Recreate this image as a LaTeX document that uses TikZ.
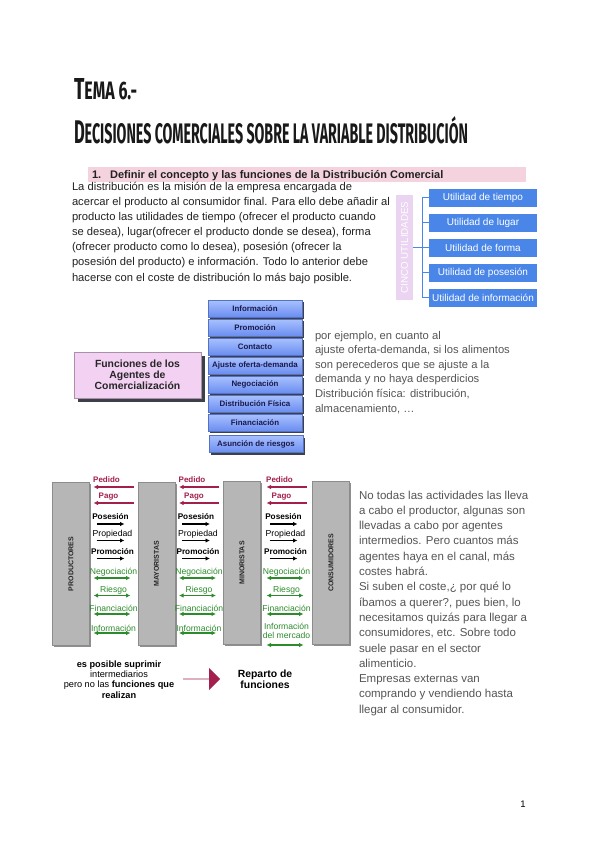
\documentclass[tikz,border=0pt]{standalone}
\usepackage{fontspec}
\newfontfamily\arial{Liberation Sans}
\newfontfamily\titlef{Fira Sans}
\usetikzlibrary{arrows.meta,shapes.arrows,shadows}
\definecolor{headpink}{HTML}{F4D3DF}
\definecolor{utpink}{HTML}{EBD3F2}
\definecolor{utblue}{HTML}{4A86E8}
\definecolor{fntop}{HTML}{A9C1FF}
\definecolor{fnbot}{HTML}{6A8DF0}
\definecolor{agpink}{HTML}{F2D1F2}
\definecolor{shadowc}{HTML}{3C4048}
\definecolor{barfill}{HTML}{B6B6B6}
\definecolor{barline}{HTML}{8C8C8C}
\definecolor{chred}{HTML}{A31F4E}
\definecolor{chgreen}{HTML}{2C8C2C}
\definecolor{graytext}{HTML}{555555}
\definecolor{bodytext}{HTML}{222222}
\definecolor{navy}{HTML}{1A1A4A}
\tikzset{
  paratext/.style={anchor=base west, text=bodytext, font=\arial\fontsize{11.2}{15}\selectfont},
  graypara/.style={anchor=base west, text=graytext, font=\arial\fontsize{11.2}{14}\selectfont},
  utbox/.style={fill=utblue, text=white, minimum width=108pt, minimum height=18pt, font=\arial\fontsize{10}{12}\selectfont},
  utline/.style={draw=utblue, line width=0.7pt},
  fnbox/.style={top color=fntop, bottom color=fnbot, draw=fnbot!80!black, line width=0.3pt,
     minimum width=94pt, minimum height=17pt, text=navy, font=\arial\bfseries\fontsize{7.9}{9}\selectfont,
     drop shadow={shadow xshift=2pt, shadow yshift=-2pt, fill=shadowc, opacity=1}},
  agbox/.style={fill=agpink, draw=agpink!70!black, line width=0.3pt, minimum width=127pt, minimum height=46pt,
     align=center, text=black!85, font=\arial\bfseries\fontsize{10.4}{11}\selectfont,
     drop shadow={shadow xshift=4pt, shadow yshift=-4pt, fill=shadowc, opacity=1}},
  chbar/.style={fill=barfill, draw=barline, line width=0.4pt, minimum width=37pt, minimum height=163pt,
     drop shadow={shadow xshift=1.5pt, shadow yshift=-1.5pt, fill=black!55, opacity=0.8}},
  barlbl/.style={rotate=90, text=black!85, font=\arial\bfseries\fontsize{7}{8}\selectfont},
  redlbl/.style={text=chred, font=\arial\bfseries\fontsize{8}{9}\selectfont},
  blklbl/.style={text=black, font=\arial\bfseries\fontsize{8.2}{9}\selectfont},
  blklbltwo/.style={text=black, font=\arial\fontsize{8.7}{9}\selectfont},
  grnlbl/.style={text=chgreen, align=center, font=\arial\fontsize{8.6}{8.8}\selectfont},
  redarr/.style={draw=chred, line width=1.1pt, -{Latex[length=4.5pt,width=4.5pt]}},
  blkarr/.style={draw=black, line width=1.2pt, -{Latex[length=4.5pt,width=4.5pt]}},
  grnarr/.style={draw=chgreen, line width=1.1pt, {Latex[length=4.5pt,width=4.5pt]}-{Latex[length=4.5pt,width=4.5pt]}},
}
\begin{document}
\begin{tikzpicture}[x=1pt,y=-1pt, every node/.style={inner sep=0pt, outer sep=0pt}]
\useasboundingbox[fill=white] (0,0) rectangle (599,848);

% title
\node[anchor=base west, text=black!90] (t1) at (74,100)
  {\resizebox{63pt}{21pt}{\titlef\bfseries\fontsize{30}{30}\selectfont T\fontsize{25}{25}\selectfont EMA 6.-}};
\node[anchor=base west, text=black!90] (t2) at (74,143)
  {\resizebox{394pt}{27pt}{\titlef\bfseries\fontsize{29}{29}\selectfont D\fontsize{25}{25}\selectfont ECISIONES COMERCIALES SOBRE LA VARIABLE DISTRIBUCIÓN}};

% heading
\node[fill=headpink, minimum width=438pt, minimum height=15pt, anchor=north west] (hbar) at (88,167) {};
\node[anchor=base west, text=bodytext, font=\arial\bfseries\fontsize{11}{13}\selectfont] (htxt) at (92,178.5)
  {1.\hspace{9pt}Definir el concepto y las funciones de la Distribución Comercial};

% paragraph
\foreach \t [count=\i] in {
  {La distribución es la misión de la empresa encargada de},
  {acercar el producto al consumidor final. Para ello debe añadir al},
  {producto las utilidades de tiempo (ofrecer el producto cuando},
  {se desea), lugar(ofrecer el producto donde se desea), forma},
  {(ofrecer producto como lo desea), posesión (ofrecer la},
  {posesión del producto) e información. Todo lo anterior debe},
  {hacerse con el coste de distribución lo más bajo posible.}}
  \node[paratext] (p\i) at (72,{190.7+15.05*(\i-1)}) {\t};

% cinco utilidades
\node[fill=utpink, rotate=90, minimum width=105pt, minimum height=17pt, text=white,
      font=\arial\fontsize{9.8}{11}\selectfont] (cinco) at (404.5,247.5) {CINCO UTILIDADES};
\node[utbox] (u1) at (483,197.5) {Utilidad de tiempo};
\node[utbox] (u2) at (483,222.5) {Utilidad de lugar};
\node[utbox] (u3) at (483,247.5) {Utilidad de forma};
\node[utbox] (u4) at (483,272.5) {Utilidad de posesión};
\node[utbox] (u5) at (483,297.5) {Utilidad de información};
\draw[utline] (u1.west) -- ++(-7,0) |- (u5.west);
\foreach \i in {2,3,4} \draw[utline] (u\i.west) -- ++(-7,0);
\draw[utline] (cinco.south) -- ++(8.5,0);

% funciones
\node[agbox] (ag) at (137.5,375) {Funciones de los\\Agentes de\\Comercialización};
\foreach \t [count=\i] in {Información,Promoción,Contacto,Ajuste oferta-demanda,Negociación,Distribución Física,Financiación}
  \node[fnbox] (f\i) at (255,{308.5+19*(\i-1)}) {\t};
\node[fnbox] (f8) at (256,444) {Asunción de riesgos};

\foreach \t [count=\i] in {
  {por ejemplo, en cuanto al},
  {ajuste oferta-demanda, si los alimentos},
  {son perecederos que se ajuste a la},
  {demanda y no haya desperdicios},
  {Distribución física: distribución,},
  {almacenamiento, …}}
  \node[graypara] (g\i) at (315,{339+14.6*(\i-1)}) {\t};

% canal
\node[chbar] (b1) at (71,564) {};
\node[chbar] (b2) at (156.5,564) {};
\node[chbar] (b3) at (242,563) {};
\node[chbar] (b4) at (331,563) {};
\node[barlbl] (b1l) at (b1) {PRODUCTORES};
\node[barlbl] (b2l) at (b2) {MAYORISTAS};
\node[barlbl] (b3l) at (b3) {MINORISTAS};
\node[barlbl] (b4l) at (b4) {CONSUMIDORES};

\foreach \cx/\c in {113.5/1,199/2,286.5/3}{
  \node[redlbl] (pe\c) at ({\cx-7},480) {Pedido};
  \coordinate (pea\c) at ({\cx+20},487); \coordinate (peb\c) at ({\cx-20},487);
  \draw[redarr] (pea\c) -- (peb\c);
  \node[redlbl] (pa\c) at ({\cx-5},497) {Pago};
  \coordinate (paa\c) at ({\cx+20},503); \coordinate (pab\c) at ({\cx-20},503);
  \draw[redarr] (paa\c) -- (pab\c);
  \node[blklbl] (po\c) at ({\cx-3},517) {Posesión};
  \coordinate (poa\c) at ({\cx-17},524); \coordinate (pob\c) at ({\cx+11},524);
  \draw[blkarr] (poa\c) -- (pob\c);
  \node[blklbltwo] (pr\c) at ({\cx-1},534.5) {Propiedad};
  \coordinate (pra\c) at ({\cx-17},540.5); \coordinate (prb\c) at ({\cx+11},540.5);
  \draw[blkarr] (pra\c) -- (prb\c);
  \node[blklbl] (pm\c) at ({\cx-1},551.5) {Promoción};
  \coordinate (pma\c) at ({\cx-17},558.5); \coordinate (pmb\c) at ({\cx+11},558.5);
  \draw[blkarr] (pma\c) -- (pmb\c);
  \node[grnlbl] (ne\c) at (\cx,572) {Negociación};
  \coordinate (nea\c) at ({\cx-20},578); \coordinate (neb\c) at ({\cx+17},578);
  \draw[grnarr] (nea\c) -- (neb\c);
  \node[grnlbl] (ri\c) at (\cx,590.5) {Riesgo};
  \coordinate (ria\c) at ({\cx-20},595.5); \coordinate (rib\c) at ({\cx+17},595.5);
  \draw[grnarr] (ria\c) -- (rib\c);
  \node[grnlbl] (fi\c) at (\cx,608.5) {Financiación};
  \coordinate (fia\c) at ({\cx-20},614); \coordinate (fib\c) at ({\cx+17},614);
  \draw[grnarr] (fia\c) -- (fib\c);
}
\foreach \cx/\c in {113.5/1,199/2}{
  \node[grnlbl] (in\c) at (\cx,628) {Información};
  \coordinate (ina\c) at ({\cx-20},633); \coordinate (inb\c) at ({\cx+17},633);
  \draw[grnarr] (ina\c) -- (inb\c);
}
\node[grnlbl] (in3) at (286.5,631) {Información\\del mercado};
\coordinate (ina3) at (266.5,645); \coordinate (inb3) at (303.5,645);
\draw[grnarr] (ina3) -- (inb3);

% bottom
\node[align=center, text=black, font=\arial\fontsize{9.2}{10.3}\selectfont] (sup) at (119,679.5)
  {\textbf{es posible suprimir}\\intermediarios\\pero no las \textbf{funciones que}\\\textbf{realizan}};
\node[single arrow, fill=chred, minimum height=37pt, minimum width=22pt, single arrow head extend=5.5pt] (barrow) at (201.5,679) {};
\node[align=center, text=black, font=\arial\bfseries\fontsize{10.4}{11}\selectfont] (rep) at (265,679) {Reparto de\\funciones};

\foreach \t [count=\i] in {
  {No todas las actividades las lleva},
  {a cabo el productor, algunas son},
  {llevadas a cabo por agentes},
  {intermedios. Pero cuantos más},
  {agentes haya en el canal, más},
  {costes habrá.},
  {Si suben el coste,¿ por qué lo},
  {íbamos a querer?, pues bien, lo},
  {necesitamos quizás para llegar a},
  {consumidores, etc. Sobre todo},
  {suele pasar en el sector},
  {alimenticio.},
  {Empresas externas van},
  {comprando y vendiendo hasta},
  {llegar al consumidor.}}
  \node[graypara, font=\arial\fontsize{11.5}{14}\selectfont] (r\i) at (359,{499+15.3*(\i-1)}) {\t};

\node[anchor=base, font=\arial\fontsize{9.5}{11}\selectfont] (pg) at (523,807.5) {1};
\end{tikzpicture}
\end{document}
